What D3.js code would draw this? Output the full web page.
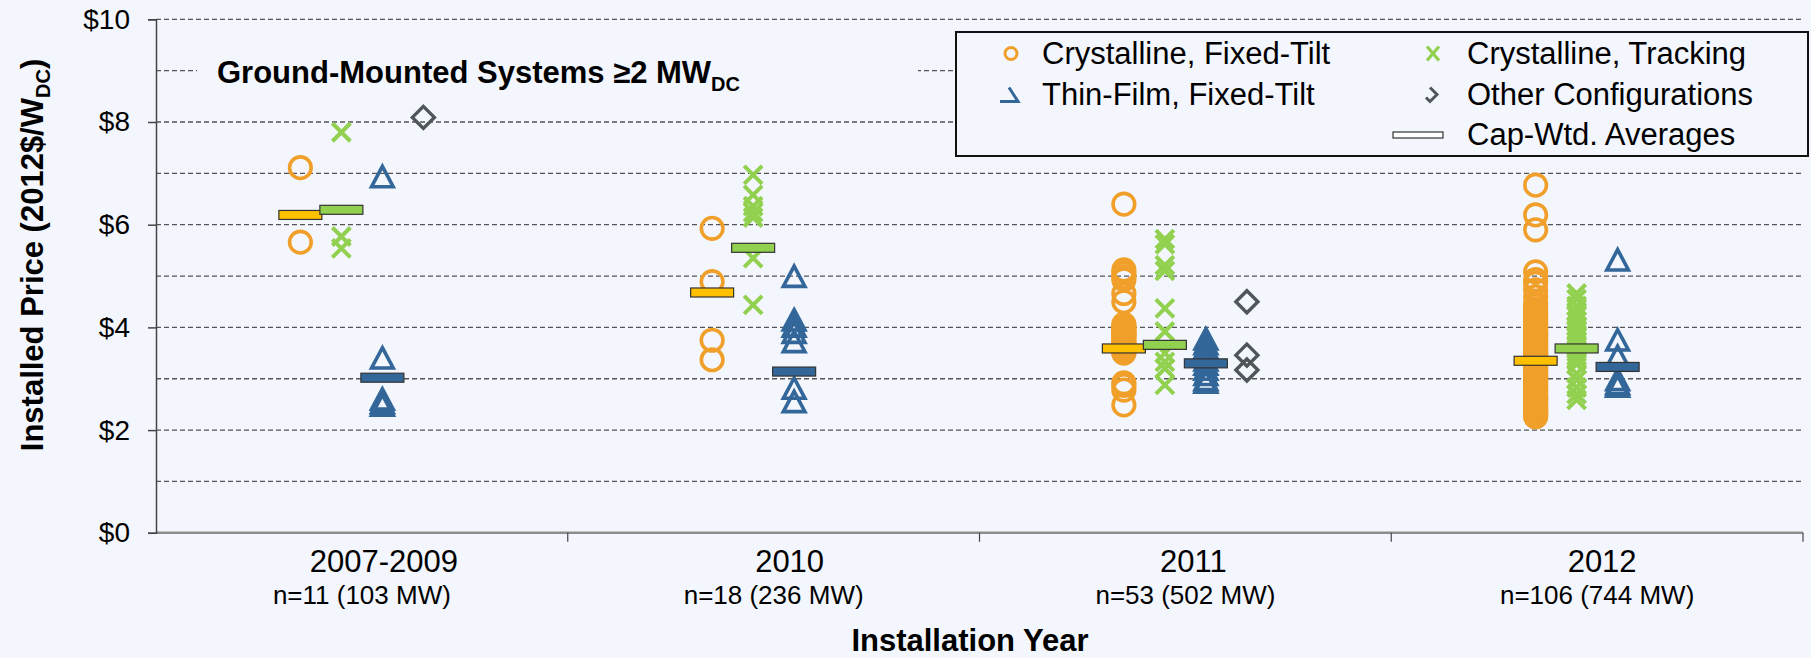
<!DOCTYPE html>
<html><head><meta charset="utf-8">
<script src="https://cdn.jsdelivr.net/npm/d3@7"></script>
<style>body{margin:0;background:#f3f6fd} svg{display:block;font-family:"Liberation Sans",Arial,sans-serif}</style>
</head><body><svg id="c" width="1811" height="658"></svg>
<script>
// ---------- data ----------
const categories = ["2007-2009", "2010", "2011", "2012"];
const sampleLabels = ["n=11 (103 MW)", "n=18 (236 MW)", "n=53 (502 MW)", "n=106 (744 MW)"];
const yTickValues = [0, 2, 4, 6, 8, 10];
const yGridValues = [1, 2, 3, 4, 5, 6, 7, 8, 9, 10];

const crystallineFixed = [
  [7.11, 5.66],
  [5.93, 4.89, 3.75, 3.37],
  [6.40, 5.12, 5.06, 4.99, 4.93, 4.66, 4.50, 4.06, 4.02, 3.98, 3.95, 3.91, 3.88, 3.87, 3.84, 3.80, 3.76, 3.72, 3.69, 3.65, 3.61, 3.58, 3.55, 3.52, 3.50, 2.92, 2.87, 2.78, 2.49],
  [6.77, 6.19, 5.90, 5.08, 4.93, 4.86, 4.73, 4.60, 4.47, 4.43, 4.36, 4.31, 4.27, 4.22, 4.18, 4.12, 4.09, 4.05, 4.00, 3.97, 3.93, 3.90, 3.86, 3.85, 3.83, 3.80, 3.76, 3.72, 3.70, 3.66, 3.63, 3.59, 3.57, 3.53, 3.50, 3.47, 3.45, 3.44, 3.40, 3.38, 3.35, 3.31, 3.29, 3.26, 3.22, 3.19, 3.17, 3.13, 3.10, 3.06, 3.05, 3.03, 2.99, 2.96, 2.94, 2.90, 2.87, 2.84, 2.80, 2.77, 2.74, 2.71, 2.67, 2.64, 2.61, 2.60, 2.58, 2.55, 2.52, 2.49, 2.46, 2.43, 2.40, 2.37, 2.35, 2.32, 2.30, 2.29, 2.26]
];
const crystallineTracking = [
  [7.80, 5.77, 5.54],
  [6.97, 6.58, 6.36, 6.24, 6.14, 5.35, 4.44],
  [5.72, 5.62, 5.21, 5.10, 4.37, 3.92, 3.50, 3.33, 3.20, 2.88],
  [4.66, 4.55, 4.42, 4.30, 4.22, 4.12, 4.03, 3.95, 3.86, 3.80, 3.72, 3.62, 3.52, 3.45, 3.36, 3.28, 3.10, 2.98, 2.83, 2.70, 2.59]
];
const thinFilmFixed = [
  [6.93, 3.40, 2.60, 2.53, 2.48],
  [4.99, 4.14, 4.02, 3.90, 3.72, 2.81, 2.55],
  [3.77, 3.68, 3.60, 3.52, 3.44, 3.36, 3.28, 3.18, 3.08, 2.98, 2.93],
  [5.31, 3.75, 3.43, 2.98, 2.90, 2.85]
];
const otherConfigs = [
  [8.09],
  [],
  [4.50, 3.46, 3.17],
  []
];
const avgCrystallineFixed = [6.19, 4.68, 3.59, 3.35];
const avgCrystallineTracking = [6.29, 5.55, 3.66, 3.59];
const avgThinFilmFixed = [3.02, 3.14, 3.30, 3.23];

// ---------- layout ----------
const W = 1811, H = 658;
const bg = "#f3f6fd";
const colOrange = "#f0a02a", colGreen = "#92d050", colBlue = "#336699", colGray = "#50555a";
const yearLabelDx = [22, 16, 8, 5];

const svg = d3.select("#c");
svg.append("rect").attr("width", W).attr("height", H).attr("fill", bg);

const x = d3.scaleBand().domain(categories).range([156, 1803]).padding(0);
const col = d3.scalePoint().domain(["cf", "ct", "tf", "oc"]).range([-61.5, 61.5]);
const y = d3.scaleLinear().domain([0, 10]).range([532.8, 19.3]);
const cx = (i, s) => x(categories[i]) + x.bandwidth() / 2 + col(s);

// gridlines
svg.append("g").selectAll("line").data(yGridValues.filter(v => v > 0)).join("line")
  .attr("x1", 156).attr("x2", 1803)
  .attr("y1", d => y(d)).attr("y2", d => y(d))
  .attr("stroke", "#555").attr("stroke-width", 1.3).attr("stroke-dasharray", "5,3");

// baseline $0
svg.append("line").attr("x1", 156).attr("x2", 1803).attr("y1", y(0)).attr("y2", y(0))
  .attr("stroke", "#8c8c8c").attr("stroke-width", 2.5);

// y axis
const yAxis = d3.axisLeft(y).tickValues(yTickValues).tickFormat(d => "$" + d).tickSize(8).tickPadding(18);
const gy = svg.append("g").attr("transform", "translate(156,0)").call(yAxis);
gy.select(".domain").attr("stroke", "#444").attr("stroke-width", 1.5);
gy.selectAll(".tick line").attr("stroke", "#444").attr("stroke-width", 1.5);
gy.selectAll(".tick text").attr("font-size", 28).attr("fill", "#000")
  .attr("font-family", "Liberation Sans, Arial, sans-serif");

// x boundary ticks
const bounds = categories.map(c => x(c)).concat([x.range()[1]]);
svg.append("g").selectAll("line").data(bounds.slice(1)).join("line")
  .attr("x1", d => d).attr("x2", d => d).attr("y1", y(0)).attr("y2", y(0) + 9)
  .attr("stroke", "#444").attr("stroke-width", 1.2);

// category labels
const gx = svg.append("g");
gx.selectAll("text.yr").data(categories).join("text").attr("class", "yr")
  .attr("x", (d, i) => x(d) + x.bandwidth() / 2 + yearLabelDx[i]).attr("y", 572)
  .attr("text-anchor", "middle").attr("font-size", 31).attr("fill", "#000").text(d => d);
gx.selectAll("text.n").data(sampleLabels).join("text").attr("class", "n")
  .attr("x", (d, i) => x(categories[i]) + x.bandwidth() / 2).attr("y", 604)
  .attr("text-anchor", "middle").attr("font-size", 26).attr("fill", "#000").text(d => d);

// axis titles
svg.append("text").attr("x", 970).attr("y", 651).attr("text-anchor", "middle")
  .attr("font-size", 31).attr("font-weight", "bold").attr("fill", "#000").text("Installation Year");
const yt = svg.append("text").attr("transform", "translate(43,255) rotate(-90)")
  .attr("text-anchor", "middle").attr("font-size", 31).attr("font-weight", "bold").attr("fill", "#000");
yt.append("tspan").text("Installed Price (2012$/W");
yt.append("tspan").attr("font-size", 20).attr("dy", 7).text("DC");
yt.append("tspan").attr("dy", -7).text(")");

// chart title with background
svg.append("rect").attr("x", 197).attr("y", 45).attr("width", 721).attr("height", 55).attr("fill", bg);
const tt = svg.append("text").attr("x", 217).attr("y", 83).attr("font-size", 31).attr("font-weight", "bold").attr("fill", "#000");
tt.append("tspan").text("Ground-Mounted Systems \u22652 MW");
tt.append("tspan").attr("font-size", 20).attr("dy", 8).text("DC");

// ---------- markers ----------
const marks = svg.append("g");
function flat(arr, key) {
  const out = [];
  arr.forEach((vals, i) => vals.forEach(v => out.push({ i, v, key })));
  return out;
}
// crystalline fixed: circles
marks.append("g").selectAll("circle").data(flat(crystallineFixed, "cf")).join("circle")
  .attr("cx", d => cx(d.i, "cf")).attr("cy", d => y(d.v)).attr("r", 10.8)
  .attr("fill", "none").attr("stroke", colOrange).attr("stroke-width", 3.6);
// crystalline tracking: X
marks.append("g").selectAll("path").data(flat(crystallineTracking, "ct")).join("path")
  .attr("transform", d => `translate(${cx(d.i, "ct")},${y(d.v)})`)
  .attr("d", "M-9,-9L9,9M9,-9L-9,9")
  .attr("fill", "none").attr("stroke", colGreen).attr("stroke-width", 4);
// thin film: triangles
marks.append("g").selectAll("path").data(flat(thinFilmFixed, "tf")).join("path")
  .attr("transform", d => `translate(${cx(d.i, "tf")},${y(d.v)})`)
  .attr("d", "M0,-10.5L10.8,9.8L-10.8,9.8Z")
  .attr("fill", "none").attr("stroke", colBlue).attr("stroke-width", 3.6);
// other: diamonds
marks.append("g").selectAll("path").data(flat(otherConfigs, "oc")).join("path")
  .attr("transform", d => `translate(${cx(d.i, "oc")},${y(d.v)})`)
  .attr("d", "M0,-11L11,0L0,11L-11,0Z")
  .attr("fill", "none").attr("stroke", colGray).attr("stroke-width", 3.4);

// averages
const avgSets = [
  { key: "cf", vals: avgCrystallineFixed, fill: "#ffc000" },
  { key: "ct", vals: avgCrystallineTracking, fill: colGreen },
  { key: "tf", vals: avgThinFilmFixed, fill: colBlue }
];
avgSets.forEach(s => {
  marks.append("g").selectAll("rect").data(s.vals).join("rect")
    .attr("x", (d, i) => cx(i, s.key) - 21.5).attr("y", d => y(d) - 4.5)
    .attr("width", 43).attr("height", 9)
    .attr("fill", s.fill).attr("stroke", "#333").attr("stroke-width", 1.2);
});

// ---------- legend ----------
const lg = svg.append("g");
lg.append("rect").attr("x", 956).attr("y", 32).attr("width", 852).attr("height", 124)
  .attr("fill", bg).attr("stroke", "#111").attr("stroke-width", 2);
const legendItems = [
  { label: "Crystalline, Fixed-Tilt", mx: 1011, tx: 1042, ty: 63.5, type: "cf" },
  { label: "Crystalline, Tracking", mx: 1433, tx: 1467, ty: 63.5, type: "ct" },
  { label: "Thin-Film, Fixed-Tilt", mx: 1010, tx: 1042, ty: 104.5, type: "tf" },
  { label: "Other Configurations", mx: 1433, tx: 1467, ty: 104.5, type: "oc" },
  { label: "Cap-Wtd. Averages", mx: 1418, tx: 1467, ty: 145, type: "avg" }
];
legendItems.forEach(it => {
  const cy = it.ty - 10;
  const g = lg.append("g").attr("transform", `translate(${it.mx},${cy})`);
  if (it.type === "cf") g.append("circle").attr("r", 6).attr("fill", "none").attr("stroke", colOrange).attr("stroke-width", 3);
  if (it.type === "ct") g.append("path").attr("d", "M-6,-7L6,7M6,-7L-6,7").attr("fill", "none").attr("stroke", colGreen).attr("stroke-width", 3.2);
  if (it.type === "tf") g.append("path").attr("d", "M-1,-7L8,7L-10,7").attr("fill", "none").attr("stroke", colBlue).attr("stroke-width", 3);
  if (it.type === "oc") g.append("path").attr("d", "M-3,-7L4,0L-3,7L-7,3").attr("fill", "none").attr("stroke", colGray).attr("stroke-width", 3);
  if (it.type === "avg") g.append("rect").attr("x", -25).attr("y", -3).attr("width", 50).attr("height", 6).attr("fill", "#fff").attr("stroke", "#333").attr("stroke-width", 1.2);
  lg.append("text").attr("x", it.tx).attr("y", it.ty).attr("font-size", 31).attr("fill", "#000").text(it.label);
});
</script>
</body></html>
